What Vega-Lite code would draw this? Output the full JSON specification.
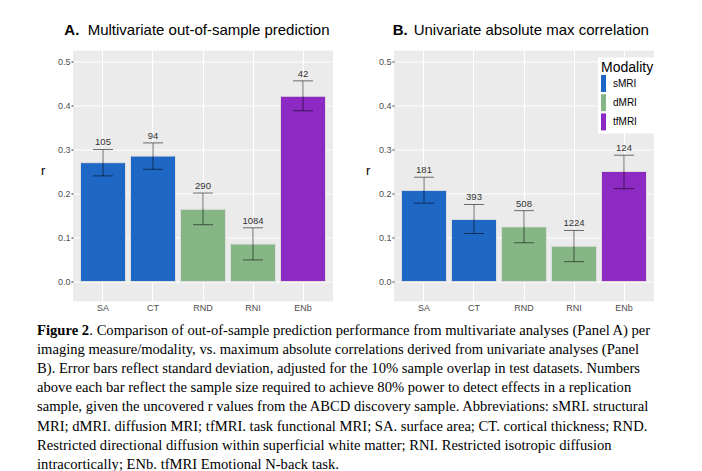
{
  "$schema": "https://vega.github.io/schema/vega-lite/v6.json",
  "background": "white",
  "padding": {"left": 37, "top": 22.5, "right": 20, "bottom": 5},
  "datasets": {
    "multivariate": [
      {"measure": "SA", "modality": "sMRI", "r": 0.270, "lower": 0.240, "upper": 0.300, "n": 105},
      {"measure": "CT", "modality": "sMRI", "r": 0.285, "lower": 0.255, "upper": 0.315, "n": 94},
      {"measure": "RND", "modality": "dMRI", "r": 0.164, "lower": 0.129, "upper": 0.201, "n": 290},
      {"measure": "RNI", "modality": "dMRI", "r": 0.085, "lower": 0.049, "upper": 0.122, "n": 1084},
      {"measure": "ENb", "modality": "tfMRI", "r": 0.421, "lower": 0.388, "upper": 0.456, "n": 42}
    ],
    "univariate": [
      {"measure": "SA", "modality": "sMRI", "r": 0.207, "lower": 0.178, "upper": 0.237, "n": 181},
      {"measure": "CT", "modality": "sMRI", "r": 0.141, "lower": 0.109, "upper": 0.175, "n": 393},
      {"measure": "RND", "modality": "dMRI", "r": 0.124, "lower": 0.088, "upper": 0.161, "n": 508},
      {"measure": "RNI", "modality": "dMRI", "r": 0.080, "lower": 0.045, "upper": 0.116, "n": 1224},
      {"measure": "ENb", "modality": "tfMRI", "r": 0.250, "lower": 0.211, "upper": 0.287, "n": 124}
    ]
  },
  "title": {
    "text": [
      "imaging measure/modality, vs. maximum absolute correlations derived from univariate analyses (Panel",
      "B). Error bars reflect standard deviation, adjusted for the 10% sample overlap in test datasets. Numbers",
      "above each bar reflect the sample size required to achieve 80% power to detect effects in a replication",
      "sample, given the uncovered r values from the ABCD discovery sample. Abbreviations: sMRI. structural",
      "MRI; dMRI. diffusion MRI; tfMRI. task functional MRI; SA. surface area; CT. cortical thickness; RND.",
      "Restricted directional diffusion within superficial white matter; RNI. Restricted isotropic diffusion",
      "intracortically; ENb. tfMRI Emotional N-back task."
    ],
    "orient": "bottom",
    "anchor": "start",
    "frame": "bounds",
    "dx": 0,
    "offset": 4.4,
    "font": "Liberation Serif",
    "fontSize": 14.6,
    "fontWeight": "normal",
    "lineHeight": 19.3,
    "color": "black"
  },
  "vconcat": [
    {
      "title": {
        "text": ". Comparison of out-of-sample prediction performance from multivariate analyses (Panel A) per",
        "subtitle": "Figure 2",
        "orient": "bottom",
        "anchor": "start",
        "frame": "bounds",
        "dx": -3.5,
        "offset": 10,
        "font": "Liberation Serif",
        "fontSize": 14.6,
        "fontWeight": "normal",
        "color": "black",
        "subtitleFont": "Liberation Serif",
        "subtitleFontSize": 14.6,
        "subtitleFontWeight": "bold",
        "subtitleColor": "black",
        "subtitlePadding": -14.6,
        "encoding": {"dx": {"value": 48.8}}
      },
      "hconcat": [
        {
          "width": 260,
          "height": 251,
          "title": {
            "text": "Multivariate out-of-sample prediction",
            "subtitle": "A.",
            "frame": "group",
            "dx": -8.7,
            "encoding": {"dx": {"value": 14.7}}
          },
          "data": {"name": "multivariate"},
          "encoding": {
            "x": {
              "field": "measure", "type": "nominal", "sort": null, "title": null,
              "scale": {"paddingInner": 0.1, "paddingOuter": 0.15},
              "axis": {"grid": true, "bandPosition": 0.5, "labelAngle": 0}
            }
          },
          "layer": [
            {
              "mark": {"type": "bar", "stroke": "#dddddd", "strokeWidth": 1},
              "encoding": {
                "y": {
                  "field": "r", "type": "quantitative", "title": "r",
                  "scale": {"domain": [-0.0455, 0.525], "nice": false, "zero": false},
                  "axis": {"titleX": -30.3, "titleY": 120}
                },
                "y2": {"datum": 0},
                "color": {"field": "modality", "type": "nominal", "legend": null,
                  "scale": {"domain": ["sMRI", "dMRI", "tfMRI"], "range": ["#1f67c5", "#86b686", "#8e2ac4"]}}
              }
            },
            {
              "mark": {"type": "rule", "color": "black", "opacity": 0.55, "strokeWidth": 1},
              "encoding": {"y": {"field": "lower", "type": "quantitative", "title": "r"}, "y2": {"field": "upper"}}
            },
            {
              "mark": {"type": "tick", "color": "black", "opacity": 0.55, "thickness": 1, "size": 20},
              "encoding": {"y": {"field": "lower", "type": "quantitative", "title": "r"}}
            },
            {
              "mark": {"type": "tick", "color": "black", "opacity": 0.55, "thickness": 1, "size": 20},
              "encoding": {"y": {"field": "upper", "type": "quantitative", "title": "r"}}
            },
            {
              "mark": {"type": "text", "font": "Liberation Sans", "fontSize": 9.5, "color": "#333333", "baseline": "alphabetic", "dy": -4},
              "encoding": {"y": {"field": "upper", "type": "quantitative", "title": "r"}, "text": {"field": "n", "type": "quantitative"}}
            }
          ]
        },
        {
          "width": 260,
          "height": 251,
          "title": {
            "text": "Univariate absolute max correlation",
            "subtitle": "B.",
            "frame": "group",
            "dx": -1.3,
            "encoding": {"dx": {"value": 19.7}}
          },
          "data": {"name": "univariate"},
          "encoding": {
            "x": {
              "field": "measure", "type": "nominal", "sort": null, "title": null,
              "scale": {"paddingInner": 0.1, "paddingOuter": 0.15},
              "axis": {"grid": true, "bandPosition": 0.5, "labelAngle": 0}
            }
          },
          "layer": [
            {
              "mark": {"type": "bar", "stroke": "#dddddd", "strokeWidth": 1},
              "encoding": {
                "y": {
                  "field": "r", "type": "quantitative", "title": "r",
                  "scale": {"domain": [-0.0455, 0.525], "nice": false, "zero": false},
                  "axis": {"titleX": -26.3, "titleY": 120}
                },
                "y2": {"datum": 0},
                "color": {
                  "field": "modality", "type": "nominal", "title": "Modality",
                  "scale": {"domain": ["sMRI", "dMRI", "tfMRI"], "range": ["#1f67c5", "#86b686", "#8e2ac4"]},
                  "legend": {
                    "orient": "none", "legendX": 204, "legendY": 7,
                    "fillColor": "white", "padding": 3,
                    "titleFont": "Liberation Sans", "titleFontSize": 14, "titleFontWeight": "normal", "titleColor": "black", "titlePadding": 4,
                    "labelFont": "Liberation Sans", "labelFontSize": 10, "labelColor": "black",
                    "symbolType": "M-1,-1.7H0V1.7H-1Z", "symbolSize": 100, "symbolStrokeWidth": 0, "symbolOpacity": 1,
                    "labelOffset": 2, "rowPadding": 1.2
                  }
                }
              }
            },
            {
              "mark": {"type": "rule", "color": "black", "opacity": 0.55, "strokeWidth": 1},
              "encoding": {"y": {"field": "lower", "type": "quantitative", "title": "r"}, "y2": {"field": "upper"}}
            },
            {
              "mark": {"type": "tick", "color": "black", "opacity": 0.55, "thickness": 1, "size": 20},
              "encoding": {"y": {"field": "lower", "type": "quantitative", "title": "r"}}
            },
            {
              "mark": {"type": "tick", "color": "black", "opacity": 0.55, "thickness": 1, "size": 20},
              "encoding": {"y": {"field": "upper", "type": "quantitative", "title": "r"}}
            },
            {
              "mark": {"type": "text", "font": "Liberation Sans", "fontSize": 9.5, "color": "#333333", "baseline": "alphabetic", "dy": -4},
              "encoding": {"y": {"field": "upper", "type": "quantitative", "title": "r"}, "text": {"field": "n", "type": "quantitative"}}
            }
          ]
        }
      ],
      "spacing": 32,
      "resolve": {"scale": {"color": "independent"}}
    }
  ],
  "config": {
    "font": "Liberation Sans",
    "view": {"fill": "#ebebeb", "stroke": null},
    "title": {
      "font": "Liberation Sans", "fontSize": 15, "fontWeight": "normal", "color": "black",
      "anchor": "start",
      "subtitleFont": "Liberation Sans", "subtitleFontSize": 15, "subtitleFontWeight": "bold", "subtitleColor": "black",
      "subtitlePadding": -15, "offset": 12.5
    },
    "axis": {
      "domain": false,
      "gridColor": "white",
      "gridWidth": 1,
      "gridOpacity": 1,
      "tickColor": "#333333",
      "tickSize": 2,
      "labelFont": "Liberation Sans",
      "labelFontSize": 9,
      "labelColor": "#4d4d4d",
      "labelPadding": 1,
      "titleFont": "Liberation Sans",
      "titleFontSize": 13,
      "titleFontWeight": "normal",
      "titleColor": "black"
    },
    "axisX": {"ticks": false, "labelPadding": 2},
    "axisY": {
      "values": [0, 0.05, 0.1, 0.15, 0.2, 0.25, 0.3, 0.35, 0.4, 0.45, 0.5],
      "labelExpr": "round(datum.value * 20) % 2 == 0 ? format(datum.value, '.1f') : ''",
      "gridWidth": {"condition": {"test": "round(datum.value * 20) % 2 == 1", "value": 0.5}, "value": 1},
      "tickOpacity": {"condition": {"test": "round(datum.value * 20) % 2 == 1", "value": 0}, "value": 1},
      "titleAngle": 0,
      "titleAlign": "center",
      "titleBaseline": "middle"
    }
  }
}
